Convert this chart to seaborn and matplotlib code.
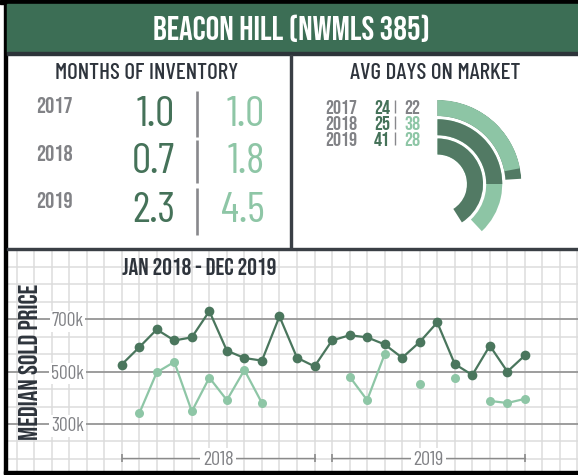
import numpy as np
import pandas as pd
import matplotlib
matplotlib.use("Agg")
import matplotlib.pyplot as plt
import seaborn as sns
from matplotlib.patches import Rectangle

# ---------------- data ----------------
title = "BEACON HILL (NWMLS 385)"
inv_title = "MONTHS OF INVENTORY"
inv_years = ["2017", "2018", "2019"]
inv_dark = [1.0, 0.7, 2.3]
inv_light = [1.0, 1.8, 4.5]

dom_title = "AVG DAYS ON MARKET"
dom_years = ["2017", "2018", "2019"]
dom_dark = [24, 25, 41]
dom_light = [22, 38, 28]

period_label = "JAN 2018 - DEC 2019"
ylabel = "MEDIAN SOLD PRICE"
month_idx = list(range(24))
price_dark = [527, 593, 661, 619, 631, 731, 580, 552, 542, 711, 553, 520,
              619, 639, 631, 604, 553, 613, 688, 529, 487, 599, 500, 562]
price_light = [np.nan, 340, 497, 537, 348, 477, 391, 506, 380, np.nan, np.nan, np.nan,
               np.nan, 481, 391, 566, np.nan, 453, np.nan, 476, np.nan, 388, 380, 396]
ytick_vals = [300, 500, 700]
ytick_labels = ["300k", "500k", "700k"]
year_groups = ["2018", "2019"]

# ---------------- style ----------------
sns.set_style("white")
BARLOW = ["Barlow Condensed", "DejaVu Sans"]
BEBAS = ["Bebas Neue", "Barlow Condensed", "DejaVu Sans"]
plt.rcParams["font.family"] = BARLOW

DARK = "#4a765d"
DARK_TXT = "#457259"
LIGHT = "#8ec6a6"
GRAY = "#818286"
TEXT = "#2e343c"
TITLE_BG = "#3c6e55"
LINE = "#3a3f45"
ARC_DARK = "#527a64"
ARC_LIGHT = "#8dc5a5"

W, H = 578, 475
fig = plt.figure(figsize=(W / 100, H / 100), dpi=100)
fig.patch.set_facecolor("white")


def rect(x0, y0, x1, y1):
    return [x0 / W, 1 - y1 / H, (x1 - x0) / W, (y1 - y0) / H]


# ---------------- lower line chart ----------------
ax = fig.add_axes(rect(7, 249.5, 578, 471), zorder=1)
ax.set_facecolor("white")
x0px, dx = 121.7, 17.53
y500, ky = 371.3, 0.2625
ax.set_xlim((7 - x0px) / dx, (578 - x0px) / dx)
ax.set_ylim(500 - (471 - y500) / ky, 500 + (y500 - 249.5) / ky)
ax.set_xticks(np.arange(-6, 27))
ax.set_yticks(300 + np.arange(-2, 11) * (200 / 3))
ax.grid(True, color="#dcdcdc", lw=1.1, zorder=0)
ax.set_axisbelow(True)
ax.tick_params(length=0, labelbottom=False, labelleft=False)
for s in ax.spines.values():
    s.set_visible(False)
for v in ytick_vals:
    ax.axhline(v, color="#8a8a8a", lw=1.1, zorder=1)
for v, lab in zip(ytick_vals, ytick_labels):
    ax.text((67.5 - x0px) / dx, v, lab, ha="center", va="center_baseline",
            fontsize=14, color=GRAY, zorder=2,
            bbox=dict(fc="white", ec="none", pad=1.2))

df = pd.DataFrame({"idx": month_idx, "dark": price_dark, "light": price_light})
df["seg"] = df["light"].isna().cumsum()
dl = df.dropna(subset=["light"])
sns.lineplot(data=df, x="idx", y="dark", color=DARK, marker="o", markersize=7,
             markeredgewidth=0, lw=1.6, ax=ax, zorder=4)
sns.lineplot(data=dl, x="idx", y="light", units="seg", estimator=None, color=LIGHT,
             marker="o", markersize=6.5, markeredgewidth=0, lw=1.6, ax=ax, zorder=3)
ax.set_xlabel("")
ax.set_ylabel("")

# year brackets
yb = 500 - (458 - y500) / ky
for k, yr in enumerate(year_groups):
    s, e = month_idx[k * 12], month_idx[k * 12 + 11]
    ax.plot([s, e], [yb, yb], color="#8a8a8a", lw=1.0, zorder=2)
    ax.plot([s, e], [yb, yb], ls="none", marker="|", ms=6, mew=1.2, color="#8a8a8a", zorder=2)
    ax.text((s + e) / 2, yb, yr, ha="center", va="center_baseline", fontsize=14.5,
            color=GRAY, zorder=3, bbox=dict(fc="white", ec="none", pad=2))

# ---------------- radial days-on-market ----------------
cx, cy, R = 437.5, 184, 84
pax = fig.add_axes(rect(cx - R, cy - R, cx + R, cy + R), projection="polar", zorder=2)
pax.set_theta_zero_location("N")
pax.set_theta_direction(-1)
pax.set_ylim(0, R)
rings = [(68, 16), (48.75, 16), (29.5, 16)]   # outer=2017, middle=2018, inner=2019
front = ["light", "dark", "dark"]
for (r0, w), d, l, f in zip(rings, dom_dark, dom_light, front):
    bars = [("dark", d, ARC_DARK), ("light", l, ARC_LIGHT)]
    bars.sort(key=lambda b: b[0] == f)
    for _, val, col in bars:
        pax.bar(0, w, width=2 * np.pi * val / 100, bottom=r0, align="edge",
                color=col, edgecolor="none", linewidth=0)
pax.axis("off")

# ---------------- overlay: frame + texts ----------------
ov = fig.add_axes([0, 0, 1, 1], zorder=10)
ov.set_xlim(0, W)
ov.set_ylim(H, 0)
ov.axis("off")
ov.add_patch(Rectangle((0, 0), W, 4, color="black"))
ov.add_patch(Rectangle((3.5, 0), 3.5, 474, color="black"))
ov.add_patch(Rectangle((7, 4), W - 7, 48, color=TITLE_BG))
ov.add_patch(Rectangle((7, 52), W - 7, 3, color="#2d343a"))
ov.add_patch(Rectangle((290, 55), 1.6, 193, color=LINE))
ov.add_patch(Rectangle((7, 247.5), W - 7, 2, color=LINE))
ov.add_patch(Rectangle((3.5, 471), W, 3, color="black"))

ov.text(291, 39.5, title, ha="center", va="baseline", fontsize=24.5, family=BEBAS,
        color="white")
ov.text(146.7, 79, inv_title, ha="center", va="baseline", fontsize=16.5, fontweight=500,
        color=TEXT)
ov.text(435, 79, dom_title, ha="center", va="baseline", fontsize=16.5, fontweight=500,
        color=TEXT)

# months of inventory table
inv_base = [126.5, 173, 221.5]
year_base = [113.3, 161, 208.3]
bar_segs = [(91, 137), (140, 183), (187.7, 235)]
for yr, d, l, b, yb2, (s0, s1) in zip(inv_years, inv_dark, inv_light, inv_base, year_base, bar_segs):
    ov.text(36.5, yb2, yr, ha="left", va="baseline", fontsize=16.5, family=BEBAS, color=GRAY)
    ov.text(175, b, f"{d:.1f}", ha="right", va="baseline", fontsize=31, color=DARK_TXT)
    ov.text(265, b, f"{l:.1f}", ha="right", va="baseline", fontsize=31, color=LIGHT)
    ov.plot([196.7, 196.7], [s0, s1], color="#88888c", lw=1.9, solid_capstyle="butt")

# days on market table
dom_base = [113.5, 129.5, 145.5]
light_cols = [GRAY, LIGHT, LIGHT]
for yr, d, l, b, lc in zip(dom_years, dom_dark, dom_light, dom_base, light_cols):
    ov.text(357, b, yr, ha="right", va="baseline", fontsize=14.5, family=BEBAS, color=GRAY)
    ov.text(390, b, f"{d}", ha="right", va="baseline", fontsize=14.5, family=BEBAS,
            color=DARK_TXT)
    ov.text(404, b, f"{l}", ha="left", va="baseline", fontsize=14.5, family=BEBAS, color=lc)
    ov.plot([394.5, 394.5], [b - 14, b - 1], color="#88888c", lw=1.0, solid_capstyle="butt")

# lower panel texts
ov.text(199, 275, period_label, ha="center", va="baseline", fontsize=17.5, family=BEBAS,
        color=TEXT)
ov.text(28.5, 361.7, ylabel, ha="center", va="center", rotation=90, fontsize=19,
        family=BEBAS, color=TEXT)

fig.savefig("out.png", dpi=100, facecolor="white")
